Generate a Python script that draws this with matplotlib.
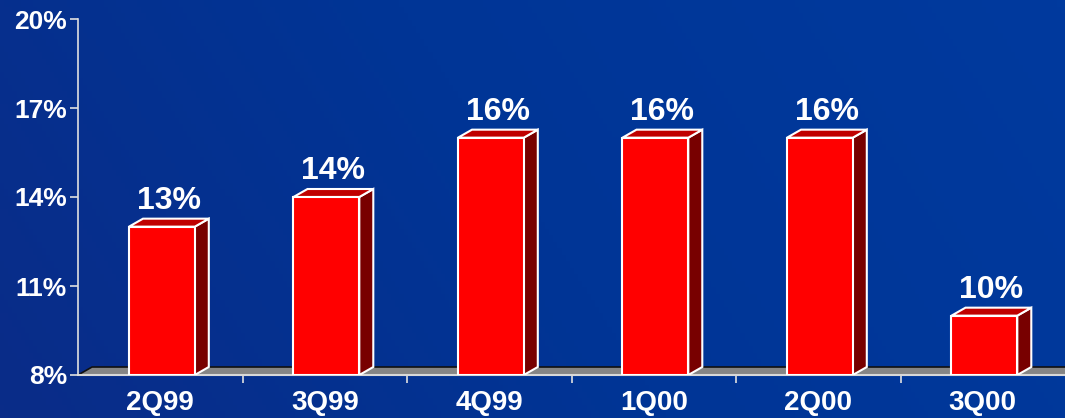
import numpy as np
import matplotlib
import matplotlib.pyplot as plt
from matplotlib.patches import Polygon
from matplotlib.colors import LinearSegmentedColormap

plt.rcParams['font.family'] = ['Liberation Sans', 'DejaVu Sans']

quarters = ["2Q99", "3Q99", "4Q99", "1Q00", "2Q00", "3Q00"]
values = [13, 14, 16, 16, 16, 10]
y_ticks = [8, 11, 14, 17, 20]

FRONT = "#ff0000"
TOP = "#c00000"
SIDE = "#780000"
EDGE = "white"
BAR_W = 0.4
DEPTH_PX = (14, 8)  # 3D depth offset in pixels (x, y)


def main():
    fig = plt.figure(figsize=(10.65, 4.18), dpi=100)

    # blue gradient backdrop
    bg = fig.add_axes([0, 0, 1, 1], zorder=0)
    cmap = LinearSegmentedColormap.from_list("bg", ["#0a2c88", "#003596", "#003a9e"])
    grad = np.linspace(0, 1, 256)[None, :] * np.ones((64, 1))
    grad = grad * 0.8 + np.linspace(0.2, 0, 64)[:, None]
    bg.imshow(grad, aspect="auto", cmap=cmap, extent=[0, 1, 0, 1], vmin=0, vmax=1)
    bg.axis("off")

    left, right = 78 / 1065, 1.0
    bottom, top = 43 / 418, 399 / 418
    ax = fig.add_axes([left, bottom, right - left, top - bottom], zorder=1)
    ax.set_facecolor("none")
    xmin, xmax = -0.5, len(quarters) - 0.5
    ymin, ymax = 8, 20
    ax.set_xlim(xmin, xmax)
    ax.set_ylim(ymin, ymax)

    # pixel -> data conversion for the depth effect
    ax_w = (right - left) * 1065
    ax_h = (top - bottom) * 418
    dx = DEPTH_PX[0] * (xmax - xmin) / ax_w
    dy = DEPTH_PX[1] * (ymax - ymin) / ax_h

    # gray floor
    floor = Polygon([(xmin, ymin), (xmax, ymin), (xmax + dx, ymin + dy), (xmin + dx, ymin + dy)],
                    closed=True, facecolor="#858585", edgecolor="none", zorder=1, clip_on=False)
    ax.add_patch(floor)
    ax.plot([xmin, xmin + dx, xmax + dx], [ymin, ymin + dy, ymin + dy], color="#101010", lw=1.2,
            zorder=1.5, clip_on=False)
    ax.plot([xmin, xmax], [ymin, ymin], color="#d8d8d8", lw=1.5, zorder=1.6, clip_on=False)

    for i, v in enumerate(values):
        x0 = i - BAR_W / 2 + 0.01
        x1 = i + BAR_W / 2 + 0.01
        front = Polygon([(x0, ymin), (x1, ymin), (x1, v), (x0, v)],
                        facecolor=FRONT, edgecolor=EDGE, lw=1.5, zorder=3, joinstyle="miter")
        side = Polygon([(x1, ymin), (x1 + dx, ymin + dy), (x1 + dx, v + dy), (x1, v)],
                       facecolor=SIDE, edgecolor=EDGE, lw=1.5, zorder=2, joinstyle="miter")
        lid = Polygon([(x0, v), (x1, v), (x1 + dx, v + dy), (x0 + dx, v + dy)],
                      facecolor=TOP, edgecolor=EDGE, lw=1.5, zorder=2, joinstyle="miter")
        for p in (side, lid, front):
            ax.add_patch(p)
        ax.text(i + dx / 2 + 0.01, v + dy + 0.1, f"{v}%", ha="center", va="bottom",
                color="white", fontsize=23, fontweight="bold", zorder=4)

    # axes styling
    for s in ("top", "right", "bottom"):
        ax.spines[s].set_visible(False)
    ax.spines["left"].set_color("#e0e0e0")
    ax.spines["left"].set_linewidth(1.2)

    ax.set_yticks(y_ticks)
    ax.set_yticklabels([f"{t}%" for t in y_ticks])
    ax.tick_params(axis="y", colors="#e0e0e0", length=6, width=1.2, pad=2,
                   labelcolor="white", labelsize=19)
    for lbl in ax.get_yticklabels():
        lbl.set_fontweight("bold")

    # category labels with separator ticks between groups
    ax.set_xticks(range(len(quarters)))
    ax.set_xticklabels(quarters)
    ax.set_xticks(np.arange(0.5, len(quarters) - 0.5, 1), minor=True)
    ax.tick_params(axis="x", which="major", length=0, pad=11, labelcolor="white", labelsize=20)
    ax.tick_params(axis="x", which="minor", length=6, width=1.2, color="#e0e0e0")
    for lbl in ax.get_xticklabels():
        lbl.set_fontweight("bold")

    fig.savefig("out.png", dpi=100)
    plt.close(fig)


if __name__ == "__main__":
    main()
